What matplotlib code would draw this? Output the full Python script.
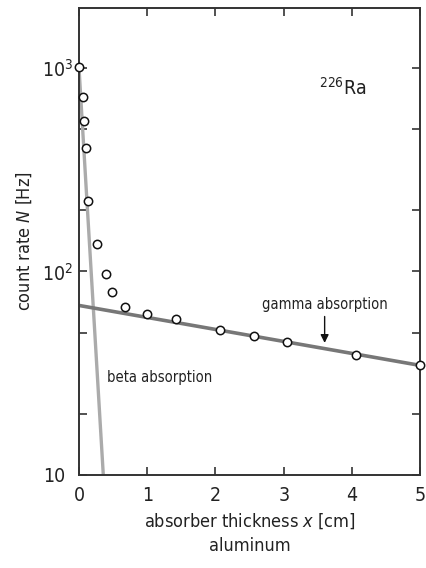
import numpy as np
import matplotlib
matplotlib.use("Agg")
import matplotlib.pyplot as plt
from matplotlib.ticker import FixedLocator, FixedFormatter, NullLocator

plt.rcParams['font.family'] = ['DejaVu Sans']
plt.rcParams['font.stretch'] = 'condensed'
plt.rcParams['mathtext.fontset'] = 'custom'
plt.rcParams['mathtext.rm'] = 'DejaVu Sans:stretch=condensed'
plt.rcParams['mathtext.it'] = 'DejaVu Sans:italic:stretch=condensed'

# measured count rates, 226Ra source behind aluminium
thickness = [0.0, 0.06, 0.08, 0.10, 0.13, 0.27, 0.39, 0.48, 0.67, 1.0,
             1.42, 2.06, 2.56, 3.05, 4.06, 5.0]
rate = [1007, 718, 546, 404, 221, 136, 97, 79, 67, 62,
        58, 51.5, 48, 45, 39, 34.5]

# fitted exponential attenuation lines
beta_x = [0.0, 0.356]
beta_n = [1000, 10]
gamma_x = [0.0, 5.0]
gamma_n = [68, 34.5]

yticks = [10, 20, 50, 100, 200, 500, 1000]
ylabels = ['10', '', '', '$10^2$', '', '', '$10^3$']
xticks = [0, 1, 2, 3, 4, 5]

fig = plt.figure(figsize=(4.27, 5.68), dpi=100)
ax = fig.add_axes([0.185, 0.164, 0.799, 0.822])

ax.plot(beta_x, beta_n, color='#ababab', lw=2.4, solid_capstyle='butt', zorder=2)
ax.plot(gamma_x, gamma_n, color='#777777', lw=2.6, solid_capstyle='butt', zorder=2)
ax.plot(thickness, rate, 'o', ms=6, mfc='white', mec='#111111', mew=1.1,
        clip_on=False, zorder=3)

ax.set_yscale('log')
ax.set_ylim(10, 1970)
ax.set_xlim(0, 5)
ax.yaxis.set_major_locator(FixedLocator(yticks))
ax.yaxis.set_major_formatter(FixedFormatter(ylabels))
ax.yaxis.set_minor_locator(NullLocator())
ax.set_xticks(xticks)

ax.tick_params(direction='in', length=6, width=1.2, color='#333333',
               labelsize=14, labelcolor='#222222', top=True, right=True)
ax.tick_params(axis='x', pad=8)
ax.tick_params(axis='y', pad=4)
# plain "10" has no exponent, keep its digits lined up with the others
ax.yaxis.get_major_ticks()[0].set_pad(10)
for s in ax.spines.values():
    s.set_color('#333333')
    s.set_linewidth(1.4)

ax.set_ylabel('count rate $N$ [Hz]', fontsize=13, labelpad=6, color='#222222')
ax.set_xlabel('absorber thickness $x$ [cm]\naluminum', fontsize=13,
              labelpad=5, linespacing=1.4, color='#222222')

ax.text(3.52, 738, '$^{226}$Ra', fontsize=14, ha='left', va='baseline', color='#222222')
ax.text(0.41, 30, 'beta absorption', fontsize=10.5, ha='left', va='center', color='#222222')
ax.text(3.6, 69, 'gamma absorption', fontsize=10.5, ha='center', va='center', color='#222222')
ax.annotate('', xy=(3.6, 44.5), xytext=(3.6, 60),
            arrowprops=dict(arrowstyle='-|>', color='#111111', lw=1.0,
                            mutation_scale=12, shrinkA=0, shrinkB=0))

fig.savefig('out.png', dpi=100)
